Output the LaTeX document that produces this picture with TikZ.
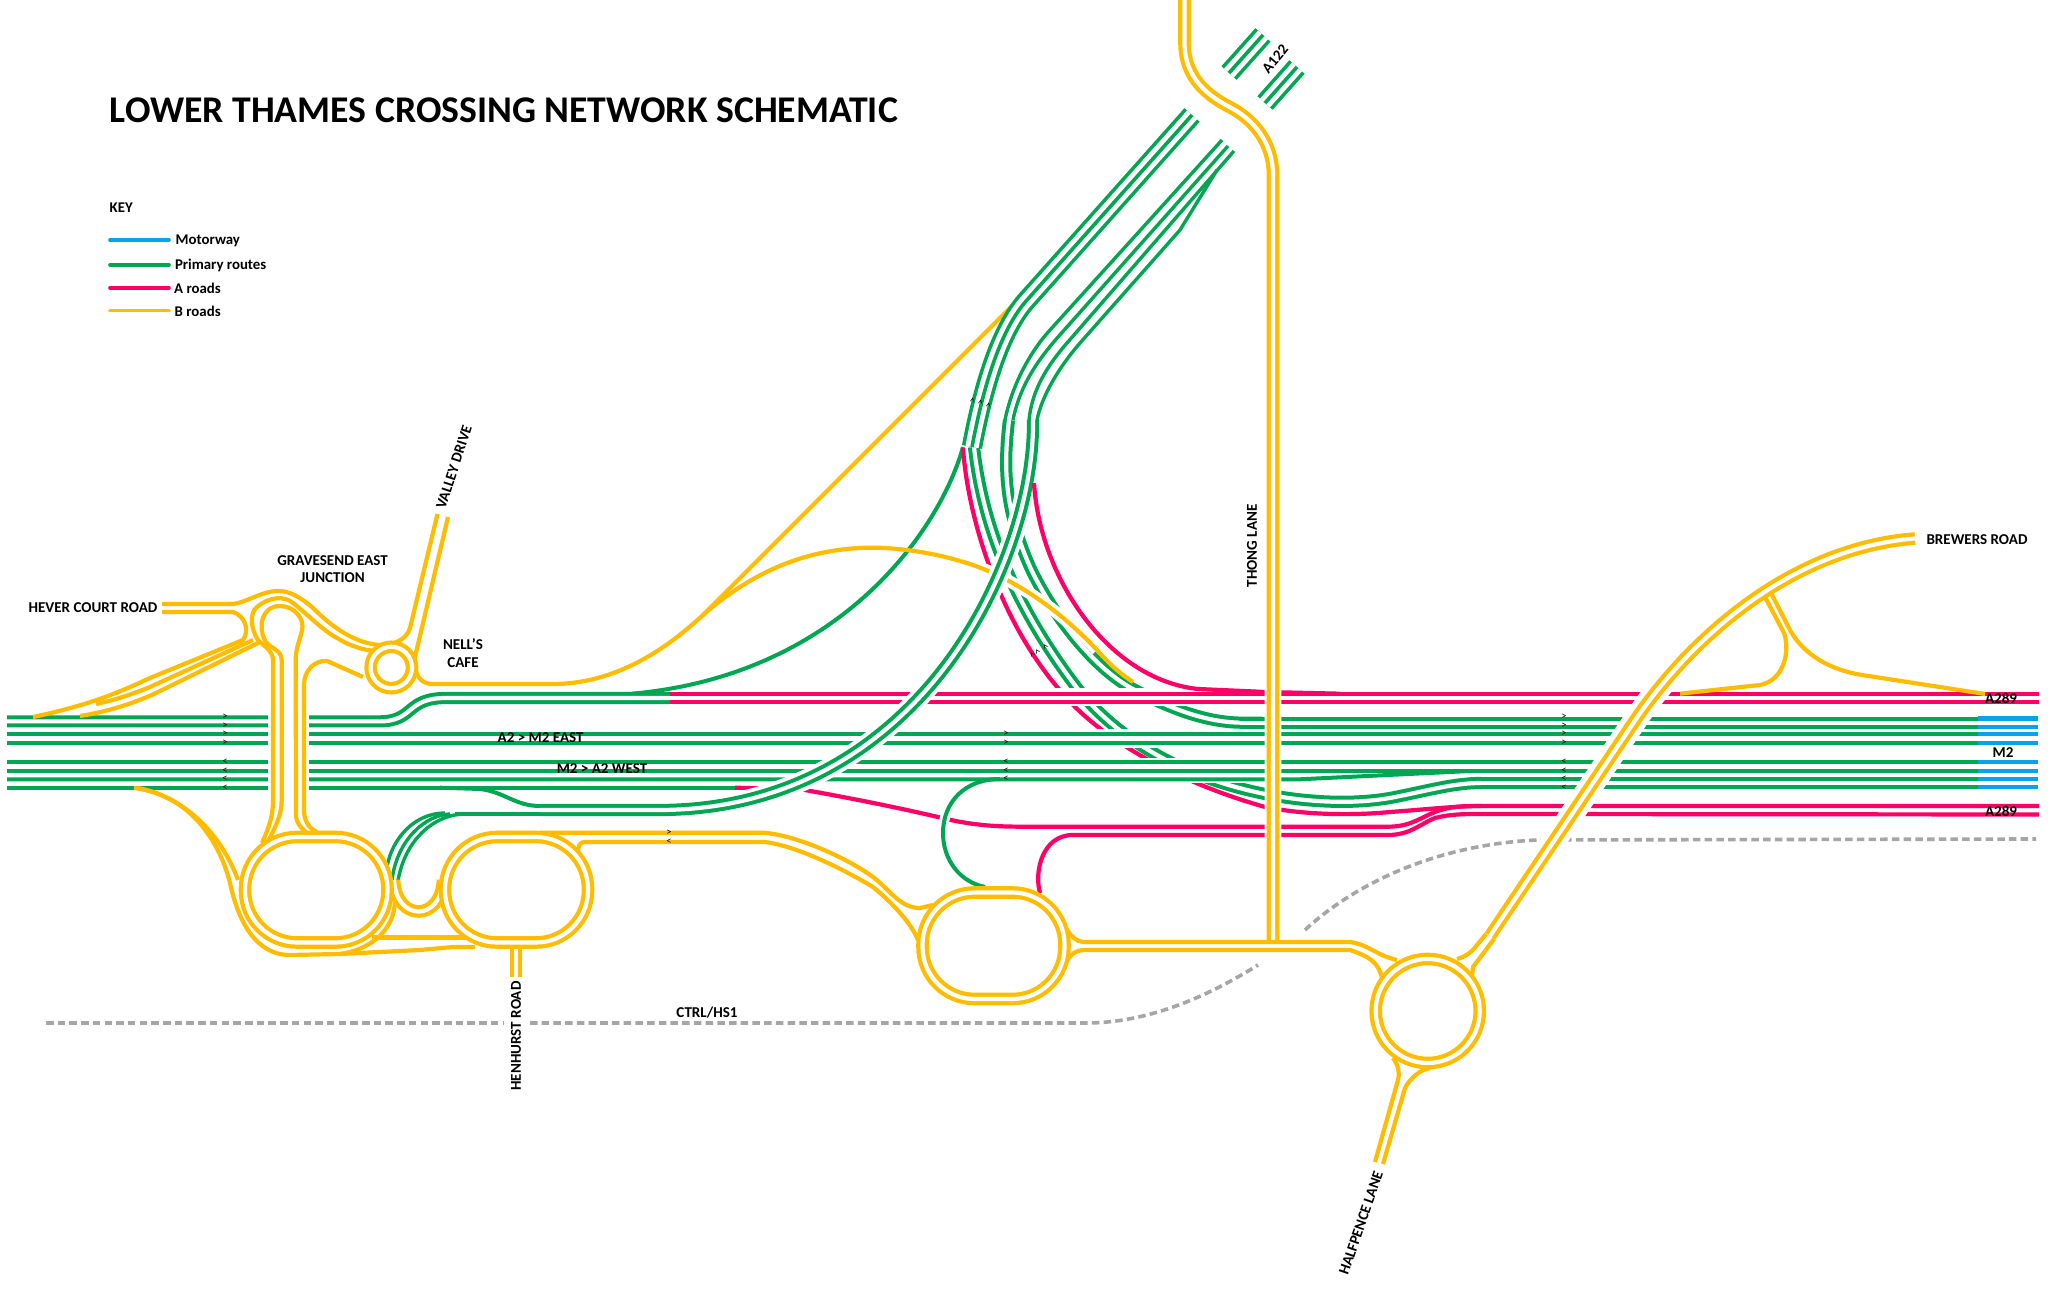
\documentclass[tikz,border=0pt]{standalone}
\usepackage{fontspec}
\setmainfont{Carlito}
\definecolor{motorblue}{HTML}{0AA2EA}
\definecolor{primarygreen}{HTML}{00A651}
\definecolor{aroadred}{HTML}{FF0066}
\definecolor{broadyellow}{HTML}{FFBC00}
\definecolor{railgrey}{HTML}{A6A6A6}
\tikzset{
motorway/.style={draw=motorblue,line width=0.42mm},
primary/.style={draw=primarygreen,line width=0.40mm},
slim/.style={draw=primarygreen,line width=0.34mm},
aroad/.style={draw=aroadred,line width=0.42mm},
broad/.style={draw=broadyellow,line width=0.42mm},
pair/.style={double=white,double distance=0.42mm},
triple/.style={draw=primarygreen,line width=2.04mm,postaction={draw=white,line width=1.32mm},postaction={draw=primarygreen,line width=0.36mm}},
casing/.style={preaction={draw=white,line width=#1}},
railway/.style={draw=railgrey,line width=0.36mm,dash pattern=on 0.75mm off 0.42mm},
keyline/.style={line width=0.36mm,line cap=round},
heading/.style={anchor=west,inner sep=0,font=\fontsize{10.73}{12}\selectfont\bfseries},
keytext/.style={anchor=west,inner sep=0,font=\fontsize{4.22}{5}\selectfont\bfseries},
place/.style={inner sep=0,align=center,font=\fontsize{4.28}{5}\selectfont\bfseries},
chevron/.style={inner sep=0,font=\fontsize{3}{3}\selectfont}
}
\begin{document}
\begin{tikzpicture}[x=0.01cm,y=-0.01cm]
\useasboundingbox (0,0) rectangle (2048,1295);
\draw[primary] (963,447) .. controls (940,530) and (840,675) .. (632,693.7);
\draw[aroad] (963,448) .. controls (968,520) and (1000,620) .. (1058,688) .. controls (1095,735) and (1170,780) .. (1265,807) .. controls (1310,816) and (1360,815) .. (1390,812) .. controls (1420,810) and (1455,806) .. (1481,806);
\draw[primary,pair] (974,447) .. controls (982,520) and (1010,600) .. (1077,688) .. controls (1110,730) and (1170,775) .. (1265,794) .. controls (1310,803) and (1360,805) .. (1400,796) .. controls (1430,790) and (1455,783) .. (1481,783);
\draw[primary,pair] (1009,420) .. controls (1003,470) and (1005,510) .. (1030,567) .. controls (1050,610) and (1090,665) .. (1131,688) .. controls (1160,703) and (1200,722.7) .. (1243,722.7) -- (1262,722.7);
\fill[white] (1045,688) rectangle (1215,706);
\fill[white] (1085,729) rectangle (1165,748);
\fill[white] (1130,758) rectangle (1245,783);
\draw[aroad] (735,787.7) -- (802,789.5) .. controls (850,798) and (900,808) .. (942,818) .. controls (975,826) and (1000,826.7) .. (1025,826.7) -- (1388,826.7) .. controls (1410,826.7) and (1420,818) .. (1435,812) .. controls (1450,806) and (1465,806) .. (1481,806) -- (2039,806);
\draw[aroad] (1040,893) .. controls (1034,872) and (1042,835) .. (1073,835) -- (1388,835) .. controls (1410,835) and (1420,824) .. (1435,818) .. controls (1450,814) and (1465,814) .. (1481,814) -- (2039,814.5);
\draw[primary,casing=0.1cm] (1000,779) .. controls (965,779) and (943,802) .. (943,833) .. controls (943,860) and (960,882) .. (985,887);
\draw[primary,pair] (7,721.4) -- (379,721.4) .. controls (415,721.4) and (405,698) .. (446,698) -- (670,698);
\draw[aroad,pair] (670,698) -- (2039,698);
\draw[primary,pair] (7,738.6) -- (1978,738.6);
\draw[primary,pair] (1240,722.7) -- (1978,722.7);
\draw[primary,pair] (7,766.5) -- (1978,766.5);
\draw[primary] (7,779.3) -- (1300,779.3) -- (1470,771);
\draw[primary] (7,787.7) -- (735,787.7);
\draw[primary,pair] (1481,783) -- (1978,783);
\draw[motorway,pair] (1978,722.7) -- (2038,722.7);
\draw[motorway,pair] (1978,738.6) -- (2038,738.6);
\draw[motorway,pair] (1978,766.5) -- (2038,766.5);
\draw[motorway,pair] (1978,783) -- (2038,783);
\draw[railway] (46,1023) -- (503,1023);
\draw[railway] (530,1023) -- (1086,1023) .. controls (1150,1023) and (1210,995) .. (1258,965);
\draw[railway] (1305,930) .. controls (1350,888) and (1430,845) .. (1537,840) -- (2036,839);
\fill[white] (268,710) rectangle (309,795);
\draw[broad] (448,517) -- (415,657) .. controls (414,675) and (420,684) .. (433,684) -- (553,684) .. controls (610,684) and (660,655) .. (703,615) -- (1020,298);
\draw[broad] (703,615) .. controls (760,565) and (820,545) .. (885,548) .. controls (915,550) and (940,555) .. (960,561);
\draw[broad,casing=0.12cm] (960,561) .. controls (1000,572) and (1050,600) .. (1097,650);
\draw[broad] (1097,650) .. controls (1110,665) and (1122,675) .. (1133,682);
\draw[primary,pair,casing=0.2cm] (1033,420) .. controls (1035,560) and (920,810) .. (659,810) -- (540,810);
\draw[aroad] (1034,483) .. controls (1040,580) and (1110,680) .. (1198,689) -- (1265,692) -- (1340,693.7);
\draw[primary] (540,806) .. controls (515,806) and (505,792) .. (480,789) -- (440,787.7);
\draw[primary] (540,814) -- (455,814);
\draw[slim] (1222,140) -- (1050,330) .. controls (1030,352) and (1012,385) .. (1005,420);
\draw[slim] (1228,146) -- (1058,337) .. controls (1038,360) and (1020,385) .. (1013,420);
\draw[slim] (1234,151) -- (1067,343) .. controls (1047,366) and (1032,390) .. (1029,420);
\draw[slim] (1217,170) -- (1180,230) -- (1080,343) .. controls (1060,366) and (1042,395) .. (1037,420);
\draw[triple] (1192,115) -- (1027,300) .. controls (1000,330) and (983,388) .. (972,447);
\draw[triple] (1263,35) -- (1229,73);
\draw[triple] (1297,67) -- (1265,103);
\draw[slim] (387,867) .. controls (392,838) and (415,813) .. (445,813);
\draw[slim] (392,880) .. controls (397,840) and (425,815) .. (450,814);
\draw[slim] (397,888) .. controls (402,840) and (435,814) .. (465,814);
\draw[broad] (162,604) -- (233,604) .. controls (245,603) and (262,591) .. (278,591) .. controls (290,591) and (300,597) .. (313,608) .. controls (330,625) and (350,640) .. (372,644) .. controls (390,648) and (407,640) .. (410,628) -- (437.5,514);
\draw[broad] (162,612) -- (233,612) .. controls (245,616) and (250,630) .. (243,640) -- (150,678) .. controls (120,692) and (90,705) .. (33,717);
\draw[broad] (253,640) -- (150,687) .. controls (130,695) and (115,700) .. (96,704);
\draw[broad] (260,642) -- (156,693) .. controls (130,705) and (105,712) .. (80,716);
\draw[broad] (262,843) .. controls (270,825) and (273,815) .. (273,800) -- (273,660) .. controls (273,650) and (262,645) .. (258,640) .. controls (250,628) and (250,612) .. (257,607) .. controls (270,596) and (285,596) .. (293,603) .. controls (305,612) and (322,630) .. (337,638) .. controls (350,646) and (365,651) .. (378,651);
\draw[broad] (268,842) .. controls (276,825) and (281.7,815) .. (281.7,800) -- (281.7,660) .. controls (281.7,650) and (270,648) .. (266,642) .. controls (258,630) and (260,606) .. (280,606) .. controls (295,606) and (305,620) .. (302,630) .. controls (300,640) and (295.7,648) .. (295.7,660) -- (296,817) .. controls (298,828) and (310,838) .. (323,838);
\draw[broad] (317,832) .. controls (308,828) and (304,820) .. (304,810) -- (304,685) .. controls (304,670) and (315,660) .. (327,661) -- (363,677);
\draw[broad] (134,788) .. controls (195,795) and (222,850) .. (230,883) .. controls (238,920) and (255,955) .. (290,955) -- (340,954) .. controls (370,950) and (395,930) .. (395,900);
\draw[broad] (138,788) .. controls (195,800) and (225,845) .. (238,880);
\draw[broad,pair] (394,880) .. controls (396,922) and (441,922) .. (443,880);
\draw[broad] (372,937.5) -- (475,937.5);
\draw[broad] (340,954) -- (420,950) -- (453,947) -- (475,947);
\draw[broad,pair] (516,945) -- (516,977);
\draw[broad] (540,832.7) -- (764,832.7) .. controls (800,836) and (850,860) .. (873,877) .. controls (890,890) and (900,908) .. (920,908) -- (933,905);
\draw[broad] (578,853) .. controls (578,845) and (580,842) .. (585,842) -- (764,842) .. controls (795,845) and (845,870) .. (873,887) .. controls (895,905) and (912,925) .. (918,940);
\draw[broad,pair,casing=0.167cm] (1184.5,0) -- (1184.5,43) .. controls (1184.5,78) and (1208,96) .. (1230.5,107.5) .. controls (1254,120) and (1273,143) .. (1273,175) -- (1273,942);
\draw[broad] (1064,925) .. controls (1070,935) and (1075,942) .. (1085,942) -- (1350,942) .. controls (1370,945) and (1375,955) .. (1397,960);
\draw[broad] (1064,965) .. controls (1070,955) and (1075,950) .. (1085,950) -- (1350,950) .. controls (1370,957) and (1378,962) .. (1382,978);
\draw[broad,pair,casing=0.24cm] (1915,538.5) .. controls (1790,548) and (1690,640) .. (1636,719) -- (1490,936);
\draw[broad] (1765,597) -- (1784,633) .. controls (1790,650) and (1785,680) .. (1760,685) -- (1680,693.7);
\draw[broad] (1771,593) -- (1791,632) .. controls (1805,655) and (1830,670) .. (1862,675) -- (1985,694);
\draw[broad] (1486,934) -- (1477,945) .. controls (1472,952) and (1465,957) .. (1457,959);
\draw[broad] (1494,939) -- (1473,967) -- (1472,977);
\draw[broad] (1393,1058) .. controls (1398,1065) and (1400,1072) .. (1398,1080) -- (1375,1162);
\draw[broad] (1430,1068) .. controls (1420,1070) and (1410,1078) .. (1405,1088) -- (1383,1164);
\draw[broad,pair,rounded corners=5.2mm] (245,837) rectangle (387.5,942.5);
\draw[broad,pair,rounded corners=5.2mm] (445,837) rectangle (588,942.5);
\draw[broad,pair,rounded corners=5.2mm] (922.5,892.5) rectangle (1064.5,999);
\draw[broad,pair] (391.3,667.5) circle [radius=0.207cm];
\draw[broad,pair] (1427.7,1011) circle [radius=0.52cm];
\node(TITLE) at (109,110) [heading]{LOWER THAMES CROSSING NETWORK SCHEMATIC};
\node(KEY) at (109,207.7) [keytext]{KEY};
\draw[keyline,motorblue] (110,240) -- (169,240);
\draw[keyline,primarygreen] (110,265) -- (169,265);
\draw[keyline,aroadred] (110,288) -- (169,288);
\draw[keyline,broadyellow] (110,310.7) -- (169,310.7);
\node(KM) at (175,241) [keytext]{Motorway};
\node(KP) at (174.3,265) [keytext]{Primary routes};
\node(KA) at (173.5,288) [keytext]{A roads};
\node(KB) at (174,311) [keytext]{B roads};
\node(GRAV) at (332.6,569) [place]{GRAVESEND EAST\\JUNCTION};
\node(HEVER) at (93,608) [place]{HEVER COURT ROAD};
\node(NELL) at (463,653) [place]{NELL’S\\CAFE};
\node(VALLEY) at (454,467) [place,rotate=72]{VALLEY DRIVE};
\node(ATOP) at (1275,59) [place,rotate=50]{A122};
\node(THONG) at (1252,546) [place,rotate=90]{THONG LANE};
\node(BREWERS) at (1977,540) [place]{BREWERS ROAD};
\node(ANORTH) at (2001,698) [place]{A289};
\node(ASOUTH) at (2001,811.7) [place]{A289};
\node(MTWO) at (2003,753) [place]{M2};
\node(EAST) at (540.6,738) [place]{A2 > M2 EAST};
\node(WEST) at (602,769) [place]{M2 > A2 WEST};
\node(RAIL) at (707,1013) [place]{CTRL/HS1};
\node(HENHURST) at (516,1036) [place,rotate=90]{HENHURST ROAD};
\node(HALFPENCE) at (1361,1223) [place,rotate=71]{HALFPENCE LANE};
\foreach \ypos in {717,726,734,743} {\node(AE\ypos) at (225,\ypos) [chevron]{>}; \node(CE\ypos) at (1564,\ypos) [chevron]{>};}
\foreach \ypos in {762,771,779,788} {\node(AW\ypos) at (225,\ypos) [chevron]{<}; \node(CW\ypos) at (1564,\ypos) [chevron]{<};}
\foreach \ypos in {734,743} {\node(BE\ypos) at (1006,\ypos) [chevron]{>};}
\foreach \ypos in {762,771,779} {\node(BW\ypos) at (1006,\ypos) [chevron]{<};}
\node(LE) at (669,833) [chevron]{>};
\node(LW) at (669,842) [chevron]{<};
\foreach \xpos/\ypos in {973/400,981/402,989/405} {\node(N\xpos) at (\xpos,\ypos) [chevron,rotate=80]{>};}
\foreach \xpos/\ypos in {1032/655,1037/652,1045/647} {\node(S\xpos) at (\xpos,\ypos) [chevron,rotate=-55]{<};}
\end{tikzpicture}
\end{document}
